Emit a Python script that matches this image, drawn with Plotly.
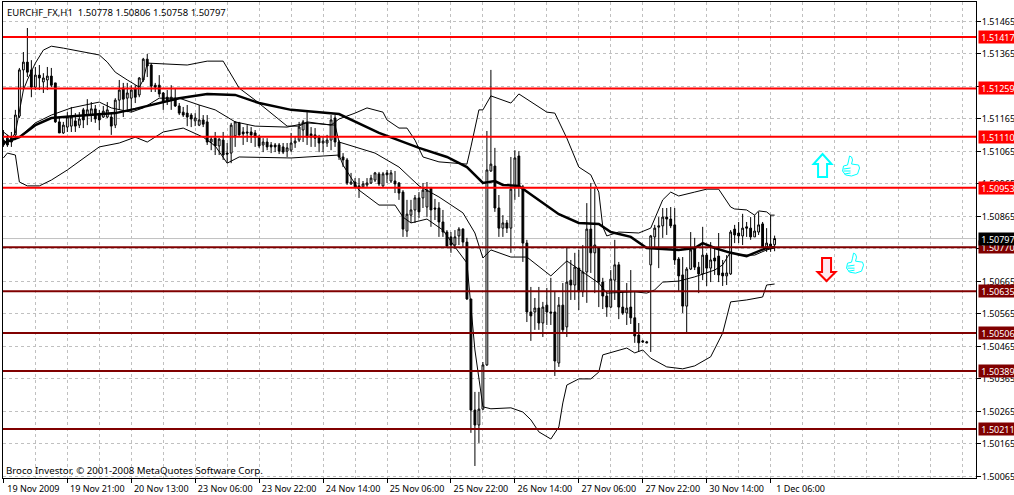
import plotly.graph_objects as go

# EURCHF H1 candles, one entry per bar
opens = [
    1.51100, 1.51106, 1.51106, 1.51116, 1.51174, 1.51316, 1.51340, 1.51316, 1.51263, 1.51300,
    1.51279, 1.51285, 1.51297, 1.51276, 1.51156, 1.51122, 1.51140, 1.51143, 1.51159, 1.51146,
    1.51193, 1.51177, 1.51177, 1.51196, 1.51177, 1.51171, 1.51171, 1.51171, 1.51146, 1.51223,
    1.51260, 1.51229, 1.51229, 1.51257, 1.51239, 1.51285, 1.51349, 1.51331, 1.51269, 1.51269,
    1.51245, 1.51232, 1.51226, 1.51229, 1.51205, 1.51186, 1.51183, 1.51177, 1.51159, 1.51146,
    1.51162, 1.51156, 1.51094, 1.51106, 1.51082, 1.51100, 1.51060, 1.51060, 1.51113, 1.51153,
    1.51125, 1.51125, 1.51125, 1.51122, 1.51109, 1.51085, 1.51094, 1.51085, 1.51085, 1.51085,
    1.51079, 1.51066, 1.51069, 1.51091, 1.51100, 1.51131, 1.51153, 1.51119, 1.51116, 1.51109,
    1.51091, 1.51091, 1.51100, 1.51168, 1.51094, 1.51048, 1.51039, 1.50965, 1.50971, 1.50959,
    1.50956, 1.50962, 1.50968, 1.50977, 1.50996, 1.50959, 1.50999, 1.50974, 1.50974, 1.50968,
    1.50940, 1.50820, 1.50869, 1.50885, 1.50922, 1.50922, 1.50894, 1.50952, 1.50891, 1.50891,
    1.50848, 1.50817, 1.50802, 1.50777, 1.50805, 1.50826, 1.50786, 1.50611, 1.50269, 1.50223,
    1.50272, 1.50408, 1.51005, 1.51020, 1.50891, 1.50829, 1.50845, 1.50829, 1.50959, 1.51051,
    1.50956, 1.50783, 1.50571, 1.50571, 1.50583, 1.50537, 1.50592, 1.50571, 1.50571, 1.50414,
    1.50592, 1.50525, 1.50669, 1.50654, 1.50706, 1.50633, 1.50694, 1.50826, 1.50753, 1.50768,
    1.50663, 1.50620, 1.50586, 1.50669, 1.50716, 1.50586, 1.50568, 1.50586, 1.50553, 1.50500,
    1.50482, 1.50479, 1.50716, 1.50802, 1.50832, 1.50836, 1.50863, 1.50857, 1.50839, 1.50734,
    1.50685, 1.50589, 1.50703, 1.50765, 1.50709, 1.50688, 1.50746, 1.50706, 1.50737, 1.50743,
    1.50691, 1.50682, 1.50688, 1.50826, 1.50814, 1.50805, 1.50833, 1.50829, 1.50802, 1.50817,
    1.50842, 1.50771, 1.50780, 1.50778,
]
closes = [
    1.51085, 1.51085, 1.51094, 1.51177, 1.51316, 1.51340, 1.51309, 1.51263, 1.51300, 1.51291,
    1.51291, 1.51297, 1.51269, 1.51156, 1.51122, 1.51146, 1.51171, 1.51171, 1.51143, 1.51165,
    1.51162, 1.51193, 1.51196, 1.51165, 1.51162, 1.51189, 1.51193, 1.51143, 1.51223, 1.51254,
    1.51226, 1.51245, 1.51254, 1.51232, 1.51291, 1.51349, 1.51328, 1.51266, 1.51263, 1.51242,
    1.51217, 1.51223, 1.51232, 1.51205, 1.51183, 1.51177, 1.51171, 1.51165, 1.51168, 1.51162,
    1.51149, 1.51094, 1.51103, 1.51082, 1.51103, 1.51054, 1.51057, 1.51146, 1.51156, 1.51116,
    1.51119, 1.51122, 1.51116, 1.51109, 1.51082, 1.51094, 1.51079, 1.51079, 1.51079, 1.51066,
    1.51063, 1.51076, 1.51091, 1.51097, 1.51140, 1.51156, 1.51109, 1.51109, 1.51106, 1.51091,
    1.51097, 1.51100, 1.51162, 1.51094, 1.51048, 1.51039, 1.50968, 1.50971, 1.50956, 1.50953,
    1.50965, 1.50968, 1.50983, 1.50999, 1.50965, 1.50996, 1.50993, 1.50999, 1.50965, 1.50937,
    1.50826, 1.50872, 1.50885, 1.50922, 1.50879, 1.50946, 1.50946, 1.50885, 1.50888, 1.50848,
    1.50817, 1.50774, 1.50777, 1.50802, 1.50826, 1.50786, 1.50611, 1.50269, 1.50223, 1.50272,
    1.50408, 1.51008, 1.51026, 1.50891, 1.50829, 1.50845, 1.50829, 1.50949, 1.51045, 1.50956,
    1.50783, 1.50571, 1.50559, 1.50583, 1.50537, 1.50586, 1.50571, 1.50568, 1.50420, 1.50592,
    1.50516, 1.50663, 1.50654, 1.50709, 1.50633, 1.50694, 1.50826, 1.50753, 1.50777, 1.50663,
    1.50620, 1.50586, 1.50672, 1.50716, 1.50586, 1.50568, 1.50583, 1.50553, 1.50497, 1.50476,
    1.50479, 1.50476, 1.50805, 1.50829, 1.50836, 1.50863, 1.50857, 1.50836, 1.50731, 1.50682,
    1.50589, 1.50703, 1.50762, 1.50709, 1.50688, 1.50746, 1.50706, 1.50731, 1.50728, 1.50685,
    1.50682, 1.50691, 1.50817, 1.50808, 1.50805, 1.50829, 1.50829, 1.50802, 1.50820, 1.50839,
    1.50771, 1.50783, 1.50774, 1.50797,
]
highs = [
    1.51131, 1.51116, 1.51125, 1.51193, 1.51322, 1.51371, 1.51445, 1.51346, 1.51325, 1.51331,
    1.51306, 1.51325, 1.51322, 1.51276, 1.51171, 1.51156, 1.51186, 1.51202, 1.51183, 1.51186,
    1.51199, 1.51226, 1.51217, 1.51208, 1.51193, 1.51205, 1.51217, 1.51183, 1.51229, 1.51285,
    1.51276, 1.51276, 1.51269, 1.51269, 1.51294, 1.51353, 1.51365, 1.51337, 1.51276, 1.51300,
    1.51248, 1.51254, 1.51269, 1.51260, 1.51214, 1.51202, 1.51208, 1.51183, 1.51183, 1.51208,
    1.51177, 1.51177, 1.51109, 1.51125, 1.51106, 1.51125, 1.51091, 1.51153, 1.51156, 1.51156,
    1.51140, 1.51146, 1.51140, 1.51131, 1.51116, 1.51106, 1.51106, 1.51094, 1.51091, 1.51091,
    1.51091, 1.51091, 1.51122, 1.51109, 1.51156, 1.51162, 1.51186, 1.51140, 1.51137, 1.51116,
    1.51109, 1.51116, 1.51177, 1.51177, 1.51100, 1.51060, 1.51045, 1.50999, 1.50983, 1.50983,
    1.50974, 1.50983, 1.50993, 1.51002, 1.51002, 1.51002, 1.51008, 1.51008, 1.51005, 1.50971,
    1.50946, 1.50916, 1.50916, 1.50931, 1.50940, 1.50968, 1.50971, 1.50956, 1.50919, 1.50909,
    1.50885, 1.50823, 1.50817, 1.50823, 1.50832, 1.50829, 1.50799, 1.50611, 1.50325, 1.50325,
    1.50417, 1.51128, 1.51316, 1.51076, 1.50931, 1.50869, 1.50854, 1.51048, 1.51069, 1.51066,
    1.50962, 1.50793, 1.50648, 1.50614, 1.50648, 1.50602, 1.50645, 1.50676, 1.50633, 1.50617,
    1.50660, 1.50768, 1.50731, 1.50753, 1.50762, 1.50777, 1.50906, 1.50968, 1.50956, 1.50771,
    1.50676, 1.50633, 1.50700, 1.50793, 1.50725, 1.50633, 1.50660, 1.50700, 1.50633, 1.50537,
    1.50485, 1.50482, 1.50808, 1.50839, 1.50863, 1.50891, 1.50891, 1.50894, 1.50891, 1.50740,
    1.50740, 1.50709, 1.50817, 1.50799, 1.50725, 1.50833, 1.50753, 1.50786, 1.50768, 1.50814,
    1.50731, 1.50746, 1.50823, 1.50839, 1.50848, 1.50873, 1.50848, 1.50863, 1.50869, 1.50879,
    1.50848, 1.50829, 1.50869, 1.50806,
]
lows = [
    1.51079, 1.51079, 1.51079, 1.51100, 1.51168, 1.51254, 1.51294, 1.51232, 1.51254, 1.51254,
    1.51245, 1.51254, 1.51263, 1.51153, 1.51122, 1.51119, 1.51125, 1.51125, 1.51125, 1.51137,
    1.51137, 1.51146, 1.51156, 1.51153, 1.51131, 1.51168, 1.51168, 1.51116, 1.51137, 1.51193,
    1.51171, 1.51186, 1.51186, 1.51214, 1.51232, 1.51279, 1.51294, 1.51248, 1.51248, 1.51232,
    1.51193, 1.51208, 1.51193, 1.51202, 1.51177, 1.51171, 1.51143, 1.51140, 1.51143, 1.51143,
    1.51140, 1.51085, 1.51069, 1.51054, 1.51054, 1.51039, 1.51029, 1.51029, 1.51079, 1.51113,
    1.51085, 1.51094, 1.51091, 1.51079, 1.51076, 1.51063, 1.51069, 1.51060, 1.51063, 1.51057,
    1.51057, 1.51048, 1.51063, 1.51076, 1.51094, 1.51094, 1.51085, 1.51079, 1.51079, 1.51063,
    1.51063, 1.51079, 1.51069, 1.51079, 1.51039, 1.51017, 1.50962, 1.50962, 1.50953, 1.50922,
    1.50953, 1.50956, 1.50965, 1.50971, 1.50959, 1.50956, 1.50968, 1.50968, 1.50937, 1.50916,
    1.50802, 1.50802, 1.50845, 1.50845, 1.50860, 1.50891, 1.50863, 1.50833, 1.50854, 1.50802,
    1.50802, 1.50771, 1.50753, 1.50765, 1.50777, 1.50771, 1.50608, 1.50199, 1.50097, 1.50168,
    1.50269, 1.50405, 1.51002, 1.50879, 1.50802, 1.50802, 1.50814, 1.50753, 1.50916, 1.50925,
    1.50725, 1.50540, 1.50482, 1.50516, 1.50516, 1.50494, 1.50531, 1.50531, 1.50374, 1.50402,
    1.50509, 1.50494, 1.50608, 1.50608, 1.50577, 1.50617, 1.50599, 1.50691, 1.50629, 1.50586,
    1.50580, 1.50556, 1.50583, 1.50608, 1.50549, 1.50562, 1.50531, 1.50534, 1.50476, 1.50448,
    1.50476, 1.50476, 1.50448, 1.50771, 1.50706, 1.50799, 1.50808, 1.50829, 1.50716, 1.50633,
    1.50568, 1.50509, 1.50700, 1.50700, 1.50629, 1.50669, 1.50651, 1.50663, 1.50685, 1.50663,
    1.50651, 1.50654, 1.50685, 1.50783, 1.50783, 1.50777, 1.50802, 1.50793, 1.50802, 1.50808,
    1.50768, 1.50756, 1.50756, 1.50758,
]

# indicator lines, vertices
upper_bars = [0, 2, 3, 4, 5, 6, 8, 10, 12, 15, 24, 26, 28, 31, 34, 35, 36, 46, 51, 55, 57, 59, 63, 68, 71, 74, 76, 82,
              84, 88, 91, 95, 96, 99, 101, 103, 105, 109, 114, 116, 117, 119, 120, 122, 127, 129, 136, 138, 141, 144,
              147, 149, 150, 151, 154, 159, 162, 163, 165, 167, 169, 173, 176, 179, 182, 183, 186, 188, 189, 191, 192, 193]
upper_band = [1.51125, 1.51106, 1.51122, 1.51193, 1.51254, 1.51285, 1.51337, 1.51377, 1.51389, 1.51383, 1.51362, 1.51340,
              1.51309, 1.51285, 1.51263, 1.51285, 1.51337, 1.51331, 1.51343, 1.51343, 1.51300, 1.51260, 1.51223, 1.51174,
              1.51143, 1.51143, 1.51156, 1.51146, 1.51165, 1.51183, 1.51199, 1.51186, 1.51162, 1.51137, 1.51137, 1.51100,
              1.51048, 1.51033, 1.51029, 1.51026, 1.51079, 1.51193, 1.51193, 1.51236, 1.51214, 1.51242, 1.51186, 1.51183,
              1.51106, 1.51017, 1.50993, 1.50940, 1.50833, 1.50805, 1.50817, 1.50814, 1.50829, 1.50860, 1.50916, 1.50940,
              1.50928, 1.50940, 1.50949, 1.50949, 1.50894, 1.50888, 1.50885, 1.50869, 1.50882, 1.50879, 1.50869, 1.50869]

middle_bars = [4, 8, 12, 17, 24, 27, 32, 35, 39, 44, 49, 53, 58, 63, 71, 76, 83, 84, 93, 99, 104, 109, 115, 118, 120, 122,
               127, 131, 137, 141, 149, 151, 158, 161, 163, 165, 169, 173, 178, 180, 182, 184, 188, 191, 193]
middle_band = [1.51109, 1.51153, 1.51177, 1.51199, 1.51217, 1.51199, 1.51186, 1.51199, 1.51229, 1.51229, 1.51208, 1.51193,
               1.51156, 1.51143, 1.51140, 1.51153, 1.51146, 1.51094, 1.51060, 1.51017, 1.50959, 1.50925, 1.50876, 1.50814,
               1.50737, 1.50762, 1.50740, 1.50740, 1.50682, 1.50728, 1.50660, 1.50629, 1.50633, 1.50629, 1.50639, 1.50663,
               1.50666, 1.50679, 1.50700, 1.50716, 1.50756, 1.50746, 1.50746, 1.50762, 1.50768]

lower_bars = [0, 1, 3, 4, 6, 9, 12, 16, 24, 29, 33, 36, 40, 45, 50, 53, 56, 59, 72, 84, 85, 89, 94, 98, 100, 102, 106, 110, 113,
              116, 118, 120, 122, 127, 130, 132, 134, 137, 139, 140, 141, 144, 147, 149, 150, 154, 156, 158, 160, 162, 166,
              170, 173, 177, 180, 182, 186, 190, 191, 193]
lower_band = [1.51045, 1.51060, 1.51054, 1.50971, 1.50959, 1.50959, 1.50977, 1.51008, 1.51079, 1.51091, 1.51109, 1.51094,
              1.51125, 1.51137, 1.51109, 1.51082, 1.51029, 1.51048, 1.51045, 1.51054, 1.51023, 1.50946, 1.50900, 1.50900, 1.50863,
              1.50845, 1.50857, 1.50823, 1.50771, 1.50722, 1.50454, 1.50279, 1.50273, 1.50276, 1.50263, 1.50239, 1.50202,
              1.50180, 1.50217, 1.50291, 1.50346, 1.50365, 1.50365, 1.50386, 1.50439, 1.50454, 1.50460, 1.50445, 1.50454,
              1.50429, 1.50402, 1.50396, 1.50405, 1.50433, 1.50506, 1.50602, 1.50608, 1.50617, 1.50654, 1.50657]

ma_bars = [0, 4, 8, 12, 18, 28, 33, 39, 44, 51, 58, 64, 72, 84, 88, 94, 104, 111, 116, 120, 123, 125, 129, 134, 139, 144,
           149, 152, 157, 161, 169, 173, 175, 178, 182, 186, 191, 193]
ma_line = [1.51091, 1.51109, 1.51146, 1.51168, 1.51174, 1.51183, 1.51196, 1.51214, 1.51229, 1.51242, 1.51239, 1.51214,
           1.51193, 1.51180, 1.51156, 1.51122, 1.51076, 1.51048, 1.51017, 1.50968, 1.50974, 1.50962, 1.50959, 1.50916,
           1.50872, 1.50845, 1.50842, 1.50817, 1.50802, 1.50768, 1.50762, 1.50768, 1.50783, 1.50768, 1.50753, 1.50743,
           1.50768, 1.50771]

red_levels = [1.51417, 1.51259, 1.51110, 1.50953]
dark_levels = [1.50770, 1.50635, 1.50506, 1.50389, 1.50211]
last_price = 1.50797

price_ticks = [1.51465, 1.51365, 1.51265, 1.51165, 1.51065, 1.50965, 1.50865, 1.50765,
               1.50665, 1.50565, 1.50465, 1.50365, 1.50265, 1.50165, 1.50065]
time_ticks = [0, 16, 32, 48, 64, 80, 96, 112, 128, 144, 160, 176, 192]
time_labels = ["19 Nov 2009", "19 Nov 21:00", "20 Nov 13:00", "23 Nov 06:00", "23 Nov 22:00", "24 Nov 14:00",
               "25 Nov 06:00", "25 Nov 22:00", "26 Nov 14:00", "27 Nov 06:00", "27 Nov 22:00", "30 Nov 14:00",
               "1 Dec 06:00"]

assert len(opens) == len(closes) == len(highs) == len(lows) == 194

FONT = "Noto Sans"
GRID = "#c0c0c0"
RED = "#ff0000"
DARK = "#800000"
CYAN = "#00ffff"
BAR_MAX = 243.4

bars = list(range(len(opens)))

fig = go.Figure()
fig.add_trace(go.Candlestick(
    x=bars, open=opens, high=highs, low=lows, close=closes,
    increasing=dict(line=dict(color="black", width=1), fillcolor="white"),
    decreasing=dict(line=dict(color="black", width=1), fillcolor="black"),
    whiskerwidth=0, hoverinfo="skip", showlegend=False,
))
for xs, ys, w in [(upper_bars, upper_band, 1), (middle_bars, middle_band, 1),
                  (lower_bars, lower_band, 1), (ma_bars, ma_line, 2.5)]:
    fig.add_trace(go.Scatter(x=xs, y=ys, mode="lines", line=dict(color="black", width=w),
                             hoverinfo="skip", showlegend=False))

shapes = [dict(type="line", xref="paper", x0=0, x1=1, yref="y", y0=last_price, y1=last_price,
               line=dict(color=GRID, width=1), layer="below")]
for lvl in red_levels:
    shapes.append(dict(type="line", xref="paper", x0=0, x1=1, yref="y", y0=lvl, y1=lvl, line=dict(color=RED, width=2)))
for lvl in dark_levels:
    shapes.append(dict(type="line", xref="paper", x0=0, x1=1, yref="y", y0=lvl, y1=lvl, line=dict(color=DARK, width=2)))


def icon(bar, price, points, color, width, fill="rgba(0,0,0,0)", extra=""):
    # points are pixels right/down from the anchor
    path = "M " + " L ".join(f"{px} {-py}" for px, py in points) + " Z" + extra
    return dict(type="path", xsizemode="pixel", ysizemode="pixel", xanchor=bar, yanchor=price,
                xref="x", yref="y", path=path, line=dict(color=color, width=width), fillcolor=fill)


arrow_up = [(-4.5, 23), (-4.5, 10), (-9, 10), (0, 0), (9, 10), (4.5, 10), (4.5, 23)]
arrow_down = [(-4.5, 0), (4.5, 0), (4.5, 14), (9, 14), (0, 23), (-9, 14), (-4.5, 14)]
thumb = [(1, 10), (5, 9), (6, 5), (7, 0), (9, 1), (10, 4), (9, 8), (16, 9), (17, 12), (15, 18), (9, 20), (3, 19), (0, 15)]
fingers = " M 1 -13 L 8 -12 M 1 -15 L 8 -15 M 2 -18 L 8 -17"

shapes.append(icon(205, 1.51057, arrow_up, CYAN, 2, "white"))
shapes.append(icon(206, 1.50737, arrow_down, RED, 2, "#ffe8f0"))
shapes.append(icon(210, 1.51051, thumb, CYAN, 1, "white", fingers))
shapes.append(icon(211, 1.50752, thumb, CYAN, 1, "white", fingers))

annotations = [
    dict(text="EURCHF_FX,H1  1.50778 1.50806 1.50758 1.50797", xref="paper", yref="paper", x=0, y=1,
         xanchor="left", yanchor="top", xshift=2, yshift=-2, showarrow=False, font=dict(family=FONT, size=9.5, color="black")),
    dict(text="Broco Investor, © 2001-2008 MetaQuotes Software Corp.", xref="paper", yref="paper", x=0, y=0,
         xanchor="left", yanchor="bottom", xshift=1, yshift=-1, showarrow=False, font=dict(family=FONT, size=9.7, color="black")),
]
tags = [(lvl, RED) for lvl in red_levels] + [(lvl, DARK) for lvl in dark_levels] + [(last_price, "black")]
for lvl, col in tags:
    # x axis ref instead of paper so the tags do not push the plot margin
    annotations.append(dict(text=f"&nbsp;{lvl:.5f}", xref="x", yref="y", x=BAR_MAX, y=lvl, xanchor="left", yanchor="middle",
                            xshift=1.5, showarrow=False, bgcolor=col, borderpad=0, width=37, height=12, align="left",
                            font=dict(family=FONT, size=9, color="white")))

fig.update_layout(
    width=1014, height=495, autosize=False,
    margin=dict(l=3, r=37.5, t=2, b=17),
    paper_bgcolor="white", plot_bgcolor="white",
    boxgap=0.35,
    shapes=shapes, annotations=annotations, showlegend=False,
    font=dict(family=FONT, size=9, color="black"),
    xaxis=dict(
        range=[-0.1, BAR_MAX], autorange=False, automargin=False, rangeslider=dict(visible=False), tickmode="array",
        tickvals=time_ticks, ticktext=time_labels, ticks="outside", ticklen=4, tickcolor="black", tickangle=0,
        ticklabelshift=30, ticklabelstandoff=-2,
        showline=True, linecolor="black", linewidth=1, mirror=True, zeroline=False,
        showgrid=True, gridcolor=GRID, griddash="3px,3px", gridwidth=1,
        minor=dict(tickmode="array", tickvals=list(range(0, 244, 8)), showgrid=True, gridcolor=GRID,
                   griddash="3px,3px", gridwidth=1, ticks=""),
    ),
    yaxis=dict(
        range=[1.50060, 1.51525], autorange=False, automargin=False, side="right", tickmode="array", tickvals=price_ticks,
        ticktext=[f"{v:.5f}" for v in price_ticks],
        ticks="outside", ticklen=4, tickcolor="black", ticklabelstandoff=-1,
        showline=True, linecolor="black", linewidth=1, mirror=True, zeroline=False,
        showgrid=True, gridcolor=GRID, griddash="3px,3px", gridwidth=1,
    ),
)

fig.write_html("out.html", config=dict(displayModeBar=False), post_script="document.body.style.margin='0';")
